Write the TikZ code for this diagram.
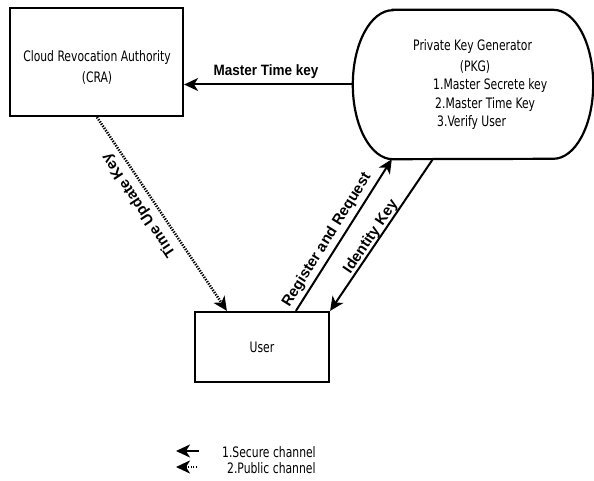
\documentclass[tikz,border=0pt]{standalone}
\usepackage{fontspec}
\setmainfont{Liberation Sans}
\newfontfamily\boxfont{DejaVu Sans Condensed}
\newfontfamily\lblfont{Liberation Sans}
\usetikzlibrary{arrows.meta}
\begin{document}
\begin{tikzpicture}[x=1pt,y=1pt,
  boxtxt/.style={font=\boxfont\fontsize{12}{17.5}\selectfont, inner sep=0pt, yscale=1.2},
  boxshape/.style={draw, line width=2.2pt, inner sep=0pt},
  lbl/.style={font=\lblfont\bfseries\fontsize{15}{17}\selectfont, inner sep=0pt},
  conn/.style={line width=2pt, -{Stealth[length=14pt,width=13pt,inset=4pt]}},
  dotconn/.style={conn, line width=2.6pt, dash pattern=on 1.3pt off 1.3pt}
]
\useasboundingbox (0,0) rectangle (594,480);

% boxes
\node[boxshape, minimum width=173pt, minimum height=108pt] (cra) at (96.5,418) {};
\node[boxtxt, align=center] (cratxt) at (97,412.5) {Cloud Revocation Authority\\(CRA)};

\node[minimum width=240pt, minimum height=149pt, inner sep=0pt] (pkg) at (473,395.5) {};
\draw[line width=2.2pt] ([xshift=40pt]pkg.north west) -- ([xshift=-40pt]pkg.north east)
  arc[start angle=90, end angle=-90, x radius=40pt, y radius=74.5pt]
  -- ([xshift=40pt]pkg.south west)
  arc[start angle=270, end angle=90, x radius=40pt, y radius=74.5pt] -- cycle;
\node[boxtxt, anchor=west] (pkg1) at (413,433) {Private Key Generator};
\node[boxtxt] (pkg2) at (475,413) {(PKG)};
\node[boxtxt, anchor=west] (pkg3) at (433,394) {1.Master Secrete key};
\node[boxtxt, anchor=west] (pkg4) at (435,375) {2.Master Time Key};
\node[boxtxt, anchor=west] (pkg5) at (437,357) {3.Verify User};

\node[boxshape, minimum width=134pt, minimum height=70pt] (user) at (262,133) {};
\node[boxtxt] (usertxt) at (262,133) {User};

% connectors
\draw[conn] (pkg.west) -- (cra.east |- pkg.west);
\node[lbl, xscale=0.9] (mtk) at (266,408) {Master Time key};

\draw[dotconn] ([xshift=88pt]cra.south west) -- ([xshift=33pt]user.north west);
\node[lbl, rotate=123.6] (tuk) at (139,275) {Time Update Key};

\draw[conn] ([xshift=102pt]user.north west) -- ([xshift=39pt]pkg.south west);
\node[lbl, rotate=58] (rar) at (327,240) {Register and Request};

\draw[conn] ([xshift=80pt]pkg.south west) -- (user.north east);
\node[lbl, rotate=56] (idk) at (371,243) {Identity Key};

% legend
\node[boxtxt, anchor=west] (leg1) at (222,28) {1.Secure channel};
\node[boxtxt, anchor=west] (leg2) at (227,12) {2.Public channel};
\coordinate (l1a) at (199,29);
\coordinate (l1b) at (176,29);
\coordinate (l2a) at (197,13);
\coordinate (l2b) at (176,13);
\draw[conn] (l1a) -- (l1b);
\draw[dotconn] (l2a) -- (l2b);
\end{tikzpicture}
\end{document}
